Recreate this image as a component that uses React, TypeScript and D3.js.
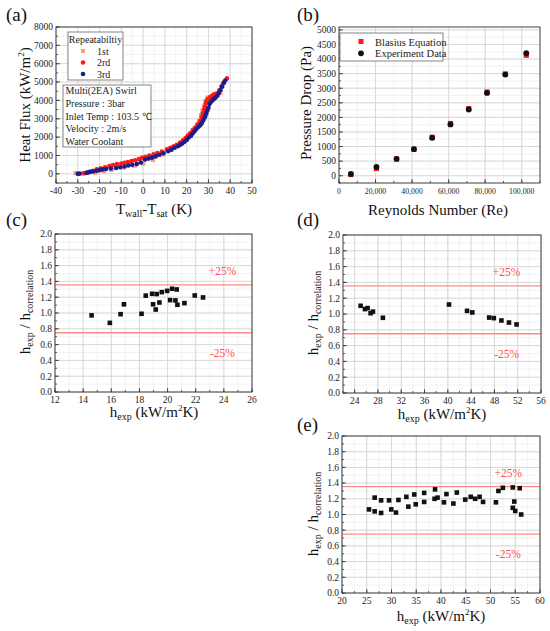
import React from 'react';
import * as d3 from 'd3';

const FONT = '"Liberation Serif", "Times New Roman", serif';

// (a) boiling curve, three repeats: [Twall - Tsat (K), heat flux (kW/m2)]
const run1st: [number, number][] = [
  [-31, 40], [-27, 20], [-22, 60], [-18, 150], [-14.5, 220], [-9, 340], [-4, 450], [0, 560],
  [4.5, 760], [9, 1050], [13, 1300], [17, 1620], [20, 1950], [22, 2200], [23.5, 2450], [25, 2650],
  [26, 2900], [26.7, 3200], [27.3, 3450], [28, 3700], [28.7, 3950], [29.5, 4150], [30.5, 4100],
  [31.5, 4200], [34.5, 4300], [35.5, 4420], [36.5, 4800],
];
const run2rd: [number, number][] = [
  [-27.5, 30], [-26, 60], [-24.5, 110], [-23, 170], [-21.3, 250], [-19.5, 300], [-17.5, 360],
  [-15.5, 420], [-13.8, 480], [-12, 530], [-10, 560], [-8.5, 600], [-7, 640], [-5.3, 700],
  [-3.7, 740], [-2, 800], [-0.5, 870], [1, 930], [2.8, 990], [4.8, 1060], [6.5, 1130], [8.6, 1220],
  [10.9, 1330], [12.5, 1420], [14, 1500], [15.5, 1580], [17, 1700], [18.3, 1820], [19.5, 1950],
  [20.5, 2080], [21.6, 2210], [22.8, 2380], [24, 2520], [25, 2700], [26, 2880], [26.8, 3100],
  [27.4, 3300], [27.9, 3480], [28.4, 3650], [28.8, 3850], [29.2, 4000], [29.8, 4080], [30.8, 4180],
  [31.8, 4260], [32.6, 4330], [33.8, 4380], [35, 4550], [36, 4750], [37, 4980], [38.5, 5200],
];
const run3rd: [number, number][] = [
  [-30, 0], [-29.2, 10], [-26, 60], [-25.1, 80], [-24.2, 110], [-23, 130], [-21.3, 170], [-20, 200],
  [-18.5, 240], [-17, 260], [-14.8, 290], [-12.4, 320], [-10.5, 360], [-8.5, 400], [-6.8, 450],
  [-5, 490], [-2.9, 530], [-1, 620], [0.9, 780], [2.5, 830], [4, 880], [5.8, 950], [7.5, 1040],
  [9.4, 1120], [11.5, 1230], [13, 1320], [14.5, 1420], [16, 1500], [17, 1580], [18, 1650],
  [19, 1750], [20.1, 1850], [21, 1980], [22, 2080], [22.8, 2200], [23.6, 2320], [24.5, 2450],
  [25.4, 2560], [26.2, 2640], [26.9, 2750], [27.6, 2900], [28.2, 3050], [28.6, 3150], [29, 3300],
  [29.5, 3450], [30, 3600], [30.5, 3800], [31, 3900], [31.8, 4000], [32.5, 4080], [33.2, 4150],
  [34, 4250], [34.7, 4390], [35.5, 4550], [36.2, 4750], [37, 4950], [37.7, 5080],
];
const aXTicks = [-40, -30, -20, -10, 0, 10, 20, 30, 40, 50];
const aYTicks = [0, 1000, 2000, 3000, 4000, 5000, 6000, 7000, 8000];
const conditions = ['Multi(2EA) Swirl', 'Pressure : 3bar', 'Inlet Temp : 103.5 \u2103', 'Velocity : 2m/s', 'Water Coolant'];

// (b) pressure drop vs Reynolds number
const reynolds = [6500, 20500, 31500, 41000, 51000, 61000, 71000, 81000, 91000, 102500];
const dpBlasius = [40, 250, 570, 910, 1320, 1790, 2300, 2870, 3490, 4130];
const dpExperiment = [60, 300, 580, 910, 1300, 1760, 2270, 2840, 3470, 4200];
const bXTicks = [0, 20000, 40000, 60000, 80000, 100000];
const bYTicks = [0, 500, 1000, 1500, 2000, 2500, 3000, 3500, 4000, 4500, 5000];

// (c)(d)(e) h_exp vs h_exp / h_correlation
const ratioC: [number, number][] = [
  [14.6, 0.97], [15.9, 0.875], [16.66, 0.985], [16.9, 1.11], [18.15, 0.99], [18.45, 1.22],
  [18.9, 1.243], [18.97, 1.11], [19.16, 1.044], [19.23, 1.24], [19.42, 1.133], [19.59, 1.264],
  [19.97, 1.28], [20.18, 1.163], [20.32, 1.307], [20.56, 1.159], [20.65, 1.298], [20.7, 1.104],
  [21.2, 1.125], [21.93, 1.222], [22.52, 1.197],
];
const ratioD: [number, number][] = [
  [25.03, 1.104], [25.77, 1.062], [26.22, 1.075], [26.74, 1.01], [27.14, 1.03], [28.85, 0.952],
  [40.2, 1.12], [43.3, 1.04], [44.2, 1.02], [47.1, 0.955], [47.9, 0.948], [49.2, 0.918],
  [50.5, 0.892], [51.8, 0.868],
];
const ratioE: [number, number][] = [
  [25.45, 1.065], [26.6, 1.215], [26.6, 1.04], [27.9, 1.18], [27.9, 1.02], [29.5, 1.18],
  [29.95, 1.065], [30.9, 1.025], [31.4, 1.185], [33.0, 1.225], [33.4, 1.1], [34.6, 1.255],
  [34.9, 1.13], [36.6, 1.275], [36.6, 1.16], [38.7, 1.2], [38.8, 1.32], [39.3, 1.215],
  [40.6, 1.155], [41.1, 1.26], [42.5, 1.14], [43.2, 1.28], [44.9, 1.19], [46.0, 1.225],
  [46.9, 1.2], [47.8, 1.225], [48.5, 1.16], [51.1, 1.155], [51.6, 1.3], [52.5, 1.34],
  [54.5, 1.345], [54.5, 1.085], [54.8, 1.165], [55.0, 1.045], [55.9, 1.335], [56.2, 1.0],
];
const cXTicks = [12, 14, 16, 18, 20, 22, 24, 26];
const dXTicks = [24, 28, 32, 36, 40, 44, 48, 52, 56];
const eXTicks = [20, 25, 30, 35, 40, 45, 50, 55, 60];
const ratioYTicks = [0, 0.2, 0.4, 0.6, 0.8, 1.0, 1.2, 1.4, 1.6, 1.8, 2.0];
const bandLines = [1.355, 0.75];
const bandLabels = ['+25%', '-25%'];

type Scale = d3.ScaleLinear<number, number>;

interface PanelProps {
  box: [number, number, number, number]; // left, top, right, bottom
  xDomain: [number, number];
  yDomain: [number, number];
  xTicks: number[];
  yTicks: number[];
  xMinorStep: number;
  yMinorStep: number;
  xFmt?: (v: number) => string;
  yFmt?: (v: number) => string;
  xFont?: number;
  children: (x: Scale, y: Scale) => React.ReactNode;
}

const Panel: React.FC<PanelProps> = ({ box, xDomain, yDomain, xTicks, yTicks, xMinorStep, yMinorStep, xFmt = String, yFmt = String, xFont = 9.5, children }) => {
  const [l, t, r, b] = box;
  const x = d3.scaleLinear().domain(xDomain).range([l, r]);
  const y = d3.scaleLinear().domain(yDomain).range([b, t]);
  const xMinor = d3.range(Math.ceil(xDomain[0] / xMinorStep) * xMinorStep, xDomain[1] + 1e-9, xMinorStep);
  const yMinor = d3.range(Math.ceil(yDomain[0] / yMinorStep) * yMinorStep, yDomain[1] + 1e-9, yMinorStep);
  return (
    <g>
      <g stroke="#ececec" strokeWidth={0.7}>
        {xMinor.map((v, i) => <line key={'xm' + i} x1={x(v)} x2={x(v)} y1={t} y2={b} />)}
        {yMinor.map((v, i) => <line key={'ym' + i} x1={l} x2={r} y1={y(v)} y2={y(v)} />)}
      </g>
      <g stroke="#d2d2d2" strokeWidth={0.8}>
        {xTicks.map((v, i) => <line key={'xg' + i} x1={x(v)} x2={x(v)} y1={t} y2={b} />)}
        {yTicks.map((v, i) => <line key={'yg' + i} x1={l} x2={r} y1={y(v)} y2={y(v)} />)}
      </g>
      <g stroke="#333" strokeWidth={0.8}>
        {xMinor.map((v, i) => <line key={'xt' + i} x1={x(v)} x2={x(v)} y1={b} y2={b - 2} />)}
        {xTicks.map((v, i) => <line key={'xT' + i} x1={x(v)} x2={x(v)} y1={b} y2={b - 4} />)}
        {yMinor.map((v, i) => <line key={'yt' + i} x1={l} x2={l + 2} y1={y(v)} y2={y(v)} />)}
        {yTicks.map((v, i) => <line key={'yT' + i} x1={l} x2={l + 4} y1={y(v)} y2={y(v)} />)}
      </g>
      <g fontFamily={FONT} fill="#222">
        {xTicks.map((v, i) => (
          <text key={'xl' + i} x={x(v)} y={b + 11} fontSize={xFont} textAnchor="middle">{xFmt(v)}</text>
        ))}
        {yTicks.map((v, i) => (
          <text key={'yl' + i} x={l - 3} y={y(v) + 3.3} fontSize={9.5} textAnchor="end">{yFmt(v)}</text>
        ))}
      </g>
      {children(x, y)}
      <rect x={l} y={t} width={r - l} height={b - t} fill="none" stroke="#444" strokeWidth={1} />
    </g>
  );
};

const Sub: React.FC<{ children: React.ReactNode }> = ({ children }) => (
  <tspan fontSize={9.5} dy={3}>{children}</tspan>
);

const RatioTitleY: React.FC<{ cx: number; cy: number }> = ({ cx, cy }) => (
  <text transform={`translate(${cx},${cy}) rotate(-90)`} textAnchor="middle" fontSize={15} fontFamily={FONT} fill="#111">
    h<tspan fontSize={10} dy={3}>exp</tspan><tspan dy={-3}> / h</tspan><tspan fontSize={10} dy={3}>correlation</tspan>
  </text>
);

const HexpTitle: React.FC<{ cx: number; y: number }> = ({ cx, y }) => (
  <text x={cx} y={y} textAnchor="middle" fontSize={15} fontFamily={FONT} fill="#111">
    h<tspan fontSize={10} dy={3}>exp</tspan><tspan dy={-3}> (kW/m</tspan><tspan fontSize={9} dy={-6}>2</tspan><tspan dy={6}>K)</tspan>
  </text>
);

const ratioPanel = (pts: [number, number][], labelX: number) => (x: Scale, y: Scale) => (
  <g>
    {bandLines.map((v, i) => (
      <g key={i}>
        <line x1={x.range()[0]} x2={x.range()[1]} y1={y(v)} y2={y(v)} stroke="#ff8a8a" strokeWidth={1.3} />
        <text x={x(labelX)} y={i === 0 ? y(v) - 10 : y(v) + 24} textAnchor="middle" fontSize={11.5} fontFamily={FONT} fill="#ff4f4f">
          {bandLabels[i]}
        </text>
      </g>
    ))}
    {pts.map((p, i) => (
      <rect key={i} x={x(p[0]) - 2.3} y={y(p[1]) - 2.3} width={4.6} height={4.6} fill="#111" />
    ))}
  </g>
);

const App: React.FC = () => {
  const fmtComma = d3.format(',');
  return (
    <div style={{ position: 'absolute', left: 0, top: 0 }}>
      <svg width={550} height={631} style={{ display: 'block', background: '#fff' }}>
        {/* (a) */}
        <Panel box={[56, 27, 252, 183]} xDomain={[-40, 50]} yDomain={[-500, 8000]} xTicks={aXTicks} yTicks={aYTicks} xMinorStep={5} yMinorStep={500}>
          {(x, y) => (
            <g>
              {run1st.map((p, i) => <rect key={'a1' + i} x={x(p[0]) - 2.2} y={y(p[1]) - 2.2} width={4.4} height={4.4} fill="#f9a07c" />)}
              {run2rd.map((p, i) => <circle key={'a2' + i} cx={x(p[0])} cy={y(p[1])} r={2.3} fill="#ff1a1a" />)}
              {run3rd.map((p, i) => <circle key={'a3' + i} cx={x(p[0])} cy={y(p[1])} r={2.3} fill="#1c1c8a" />)}
              <g fontFamily={FONT} fontSize={10} fill="#222">
                <rect x={68} y={32} width={55} height={48} fill="#fff" stroke="#666" strokeWidth={0.8} />
                <text x={95.5} y={42.5} textAnchor="middle">Repeatabiltiy</text>
                <rect x={81} y={49} width={4} height={4} fill="#f9a07c" />
                <text x={97} y={54.5}>1st</text>
                <circle cx={83} cy={62.5} r={2.3} fill="#ff1a1a" />
                <text x={97} y={66}>2rd</text>
                <circle cx={83} cy={74} r={2.3} fill="#1c1c8a" />
                <text x={97} y={77.5}>3rd</text>
                <rect x={63} y={85} width={88} height={62} fill="#fff" stroke="#666" strokeWidth={0.8} />
                {conditions.map((s, i) => (
                  <text key={s} x={65.5} y={94.3 + i * 12.6}>{s}</text>
                ))}
              </g>
            </g>
          )}
        </Panel>
        <text x={154} y={214} textAnchor="middle" fontSize={15} fontFamily={FONT} fill="#111">
          T<tspan fontSize={10} dy={3}>wall</tspan><tspan dy={-3}>-T</tspan><tspan fontSize={10} dy={3}>sat</tspan><tspan dy={-3}> (K)</tspan>
        </text>
        <text transform="translate(30,105) rotate(-90)" textAnchor="middle" fontSize={15} fontFamily={FONT} fill="#111">
          Heat Flux (kW/m<tspan fontSize={9} dy={-6}>2</tspan><tspan dy={6}>)</tspan>
        </text>

        {/* (b) */}
        <Panel box={[339, 27, 540, 183]} xDomain={[0, 110000]} yDomain={[-250, 5100]} xTicks={bXTicks} yTicks={bYTicks} xMinorStep={10000} yMinorStep={250} xFmt={fmtComma} xFont={7.8}>
          {(x, y) => (
            <g>
              {reynolds.map((re, i) => <rect key={'b1' + i} x={x(re) - 2.6} y={y(dpBlasius[i]) - 2.6} width={5.2} height={5.2} fill="#ff1a1a" />)}
              {reynolds.map((re, i) => <circle key={'b2' + i} cx={x(re)} cy={y(dpExperiment[i])} r={2.9} fill="#111" />)}
              <g fontFamily={FONT} fontSize={10.5} fill="#222">
                <rect x={340} y={33} width={103} height={28} fill="#fff" stroke="#666" strokeWidth={0.8} />
                <rect x={358.5} y={39} width={5} height={5} fill="#ff1a1a" />
                <text x={375} y={45.5}>Blasius Equation</text>
                <circle cx={361} cy={53.3} r={2.9} fill="#111" />
                <text x={375} y={57}>Experiment Data</text>
              </g>
            </g>
          )}
        </Panel>
        <text x={438} y={215} textAnchor="middle" fontSize={15} fontFamily={FONT} fill="#111">Reynolds Number (Re)</text>
        <text transform="translate(311,103) rotate(-90)" textAnchor="middle" fontSize={15} fontFamily={FONT} fill="#111">Pressure Drop (Pa)</text>

        {/* (c) */}
        <Panel box={[55, 234, 252, 392]} xDomain={[12, 26]} yDomain={[0, 2]} xTicks={cXTicks} yTicks={ratioYTicks} xMinorStep={1} yMinorStep={0.1} yFmt={d3.format('.1f')}>
          {ratioPanel(ratioC, 23.9)}
        </Panel>
        <RatioTitleY cx={30} cy={312} />
        <HexpTitle cx={154} y={417} />

        {/* (d) */}
        <Panel box={[343, 235, 541, 393]} xDomain={[22, 56]} yDomain={[0, 2]} xTicks={dXTicks} yTicks={ratioYTicks} xMinorStep={2} yMinorStep={0.1} yFmt={d3.format('.1f')}>
          {ratioPanel(ratioD, 50.1)}
        </Panel>
        <RatioTitleY cx={318} cy={313} />
        <HexpTitle cx={442} y={419} />

        {/* (e) */}
        <Panel box={[342, 436, 540, 593]} xDomain={[20, 60]} yDomain={[0, 2]} xTicks={eXTicks} yTicks={ratioYTicks} xMinorStep={2.5} yMinorStep={0.1} yFmt={d3.format('.1f')}>
          {ratioPanel(ratioE, 53.6)}
        </Panel>
        <RatioTitleY cx={318} cy={514} />
        <HexpTitle cx={441} y={621} />

        <g fontFamily={FONT} fontSize={19} fill="#111">
          <text x={6} y={21}>(a)</text>
          <text x={297} y={21}>(b)</text>
          <text x={6} y={226}>(c)</text>
          <text x={297} y={226}>(d)</text>
          <text x={297} y={431}>(e)</text>
        </g>
      </svg>
    </div>
  );
};

export default App;
